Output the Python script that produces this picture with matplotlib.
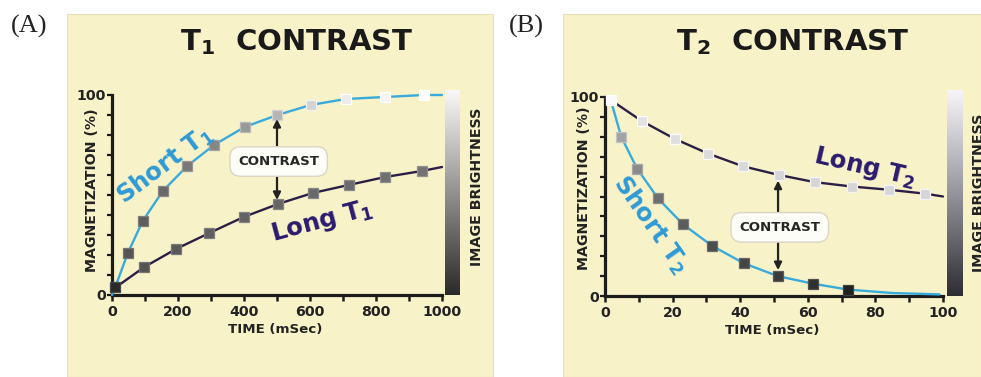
import matplotlib
matplotlib.use("Agg")
import matplotlib.pyplot as plt
from matplotlib.patches import Rectangle
from matplotlib.colors import LinearSegmentedColormap, Normalize
from matplotlib.cm import ScalarMappable
from matplotlib.ticker import MultipleLocator, FixedLocator

plt.rcParams["font.family"] = ["DejaVu Sans"]
plt.rcParams["mathtext.fontset"] = "dejavusans"

# ---------------- data ----------------
# Panel A: T1 recovery (time in ms, magnetization in %)
t1_short_time = [10, 48, 93, 154, 228, 309, 402, 501, 602, 708, 827, 944]
t1_short_mag = [4, 21, 37, 52, 64.5, 75, 84, 90, 95, 98, 99, 100]
t1_short_line_time = [0, 10, 48, 93, 154, 228, 309, 402, 501, 602, 708, 827, 944, 1000]
t1_short_line_mag = [0, 4, 21, 37, 52, 64.5, 75, 84, 90, 95, 98, 99, 100, 100]

t1_long_time = [98, 194, 295, 399, 503, 608, 717, 828, 939]
t1_long_mag = [14, 23, 31, 39, 45.5, 51, 55, 59, 62]
t1_long_line_time = [0, 98, 194, 295, 399, 503, 608, 717, 828, 939, 1000]
t1_long_line_mag = [2.5, 14, 23, 31, 39, 45.5, 51, 55, 59, 62, 64]

# Panel B: T2 decay (time in ms, magnetization in %)
t2_long_time = [1.7, 10.8, 20.6, 30.6, 40.8, 51.5, 62.1, 73.1, 84, 94.8]
t2_long_mag = [98.5, 88, 79, 71.5, 65.2, 60.8, 57.2, 55, 53.4, 51.4]
t2_long_line_time = [0, 1.7, 10.8, 20.6, 30.6, 40.8, 51.5, 62.1, 73.1, 84, 94.8, 100]
t2_long_line_mag = [99.5, 98.5, 88, 79, 71.5, 65.2, 60.8, 57.2, 55, 53.4, 51.4, 50]

t2_short_time = [4.8, 9.5, 15.7, 23.1, 31.6, 41, 51.1, 61.5, 72]
t2_short_mag = [80, 64, 49, 36, 25.3, 16.5, 10, 6.2, 3.2]
t2_short_line_time = [1.7, 4.8, 9.5, 15.7, 23.1, 31.6, 41, 51.1, 61.5, 72, 85, 99]
t2_short_line_mag = [98.5, 80, 64, 49, 36, 25.3, 16.5, 10, 6.2, 3.2, 1.5, 0.8]

# arrow spans for the contrast annotation (time, low %, high %)
t1_contrast = (500, 47.5, 88)
t2_contrast = (51.2, 13, 58)

# gray shade (0 = black, 1 = white) of each square
t1_short_shade = [0.16, 0.33, 0.37, 0.41, 0.47, 0.52, 0.60, 0.71, 0.83, 0.92, 0.96, 0.99]
t1_long_shade = [0.33, 0.35, 0.37, 0.39, 0.40, 0.41, 0.42, 0.44, 0.45]
t2_long_shade = [0.98, 0.89, 0.87, 0.86, 0.85, 0.84, 0.84, 0.84, 0.84, 0.84]
t2_short_shade = [0.64, 0.54, 0.43, 0.36, 0.30, 0.27, 0.23, 0.19, 0.13]

# ---------------- style ----------------
W, H = 981, 377
BG = "#f8f2c8"
SHORT_LINE = "#38aadb"
LONG_LINE = "#2c1f47"
SHORT_TEXT = "#2f9ad5"
LONG_TEXT = "#2a1b6e"
INK = "#1c1c1c"

fig = plt.figure(figsize=(W / 100, H / 100), dpi=100)
fig.patch.set_facecolor("white")


def fx(px):
    return px / W


def fy(py):
    return 1 - py / H


# yellow panel backgrounds (a full-figure axes kept behind everything)
bg_ax = fig.add_axes([0, 0, 1, 1], zorder=-10)
bg_ax.set_xlim(0, W)
bg_ax.set_ylim(H, 0)
bg_ax.axis("off")
for x0, x1 in [(67, 493), (563, 981)]:
    bg_ax.add_patch(Rectangle((x0, 14), x1 - x0, H - 14, facecolor=BG, edgecolor="#e6dfb8", lw=0.8))


def gray(s):
    return (s, s, s)


def edge(s):
    v = min(1.0, s + 0.12)
    return (v, v, v)


def draw_panel(rect, xmax, xmajor, xminor, ylab_xy, xlab_xy,
               lines, markers, contrast, labels):
    ax = fig.add_axes(rect)
    ax.set_facecolor("none")
    ax.set_xlim(0, xmax)
    ax.set_ylim(0, 100)
    for s in ["top", "right"]:
        ax.spines[s].set_visible(False)
    for s in ["left", "bottom"]:
        ax.spines[s].set_linewidth(2.3)
        ax.spines[s].set_color(INK)
        ax.spines[s].set_capstyle("projecting")
    ax.xaxis.set_major_locator(MultipleLocator(xmajor))
    ax.xaxis.set_minor_locator(MultipleLocator(xminor))
    ax.yaxis.set_major_locator(FixedLocator([0, 100]))
    ax.yaxis.set_minor_locator(FixedLocator(list(range(10, 100, 10))))
    ax.tick_params(axis="x", which="both", direction="out", length=4, width=1.8, color=INK, pad=3)
    ax.tick_params(axis="y", which="both", direction="out", length=3.5, width=1.6, color=INK, pad=1)
    for lab in ax.get_xticklabels() + ax.get_yticklabels():
        lab.set_fontweight("bold")
        lab.set_fontsize(10.2)
        lab.set_color("#222222")
    ax.set_ylabel("MAGNETIZATION (%)", fontsize=10.2, fontweight="bold", color="#222222", va="center")
    ax.yaxis.set_label_coords(*ylab_xy)
    ax.set_xlabel("TIME (mSec)", fontsize=9.6, fontweight="bold", color="#222222", va="center")
    ax.xaxis.set_label_coords(*xlab_xy)

    for lt, lm, col in lines:
        ax.plot(lt, lm, color=col, lw=1.7, zorder=3, clip_on=False, solid_capstyle="round")
    for mt, mm, shades in markers:
        for t, m, s in zip(mt, mm, shades):
            ax.plot([t], [m], marker="s", ms=7.2, mfc=gray(s), mec=edge(s), mew=0.9,
                    zorder=4, clip_on=False, linestyle="none")

    cx, lo, hi = contrast
    ax.annotate("", xy=(cx, hi), xytext=(cx, lo),
                arrowprops=dict(arrowstyle="<|-|>", color="#222222", lw=1.6,
                                mutation_scale=11, shrinkA=0, shrinkB=0), zorder=5)
    ax.text(cx + xmax * 0.005, (lo + hi) / 2 - 1, "CONTRAST", fontsize=9.6, fontweight="bold",
            color="#262626", ha="center", va="center", zorder=6,
            bbox=dict(boxstyle="round,pad=0.62,rounding_size=0.8", facecolor="#fdfdf7",
                      edgecolor="#d9d6c6", lw=1.0))

    for text, x, y, rot, col in labels:
        ax.text(x, y, text, fontsize=17.5, fontweight="bold", color=col, rotation=rot,
                rotation_mode="anchor", ha="center", va="center", zorder=6)
    return ax


# Panel A: T1 contrast
draw_panel(
    [fx(112), fy(295), fx(442) - fx(112), fy(95) - fy(295)], 1000, 200, 100,
    (-0.06, 0.525), (0.494, -0.172),
    [(t1_short_line_time, t1_short_line_mag, SHORT_LINE),
     (t1_long_line_time, t1_long_line_mag, LONG_LINE)],
    [(t1_short_time, t1_short_mag, t1_short_shade),
     (t1_long_time, t1_long_mag, t1_long_shade)],
    t1_contrast,
    [(r"Short T$_\mathbf{1}$", 160, 65, 37, SHORT_TEXT),
     (r"Long T$_\mathbf{1}$", 636, 37, 15, LONG_TEXT)],
)

# Panel B: T2 contrast
draw_panel(
    [fx(605), fy(296), fx(943) - fx(605), fy(97) - fy(296)], 100, 20, 10,
    (-0.062, 0.543), (0.494, -0.172),
    [(t2_short_line_time, t2_short_line_mag, SHORT_LINE),
     (t2_long_line_time, t2_long_line_mag, LONG_LINE)],
    [(t2_short_time, t2_short_mag, t2_short_shade),
     (t2_long_time, t2_long_mag, t2_long_shade)],
    t2_contrast,
    [(r"Short T$_\mathbf{2}$", 13.5, 36, -55, SHORT_TEXT),
     (r"Long T$_\mathbf{2}$", 77, 64.5, -13, LONG_TEXT)],
)

# image-brightness gray bars
bar_a = LinearSegmentedColormap.from_list("bright_a", ["#2a2a2a", "#6e6e6e", "#b4b4b4", "#f8f8f8"])
bar_b = LinearSegmentedColormap.from_list("bright_b", ["#2c2c31", "#72727b", "#b6b6be", "#f6f6f9"])
for (x0, x1, y0, y1), cmap in [((445, 460, 90, 295), bar_a), ((947, 963, 90, 296), bar_b)]:
    cax = fig.add_axes([fx(x0), fy(y1), fx(x1) - fx(x0), fy(y0) - fy(y1)])
    cb = fig.colorbar(ScalarMappable(norm=Normalize(0, 100), cmap=cmap), cax=cax)
    cb.outline.set_visible(False)
    cb.set_ticks([])

for x, y in [(477, 187), (979, 193)]:
    fig.text(fx(x), fy(y), "IMAGE BRIGHTNESS", rotation=90, fontsize=10.3, fontweight="bold",
             color="#222222", ha="center", va="center")

# titles and panel letters
fig.text(fx(297), fy(42), r"T$_\mathbf{1}$  CONTRAST", fontsize=21, fontweight="bold",
         color="#1a1a1a", ha="center", va="center")
fig.text(fx(793), fy(42), r"T$_\mathbf{2}$  CONTRAST", fontsize=21, fontweight="bold",
         color="#1a1a1a", ha="center", va="center")
fig.text(fx(11), fy(26), "(A)", family="Liberation Serif", fontsize=19, color="#222222",
         ha="left", va="center")
fig.text(fx(509), fy(26), "(B)", family="Liberation Serif", fontsize=19, color="#222222",
         ha="left", va="center")

fig.savefig("out.png", dpi=100, facecolor=fig.get_facecolor())
